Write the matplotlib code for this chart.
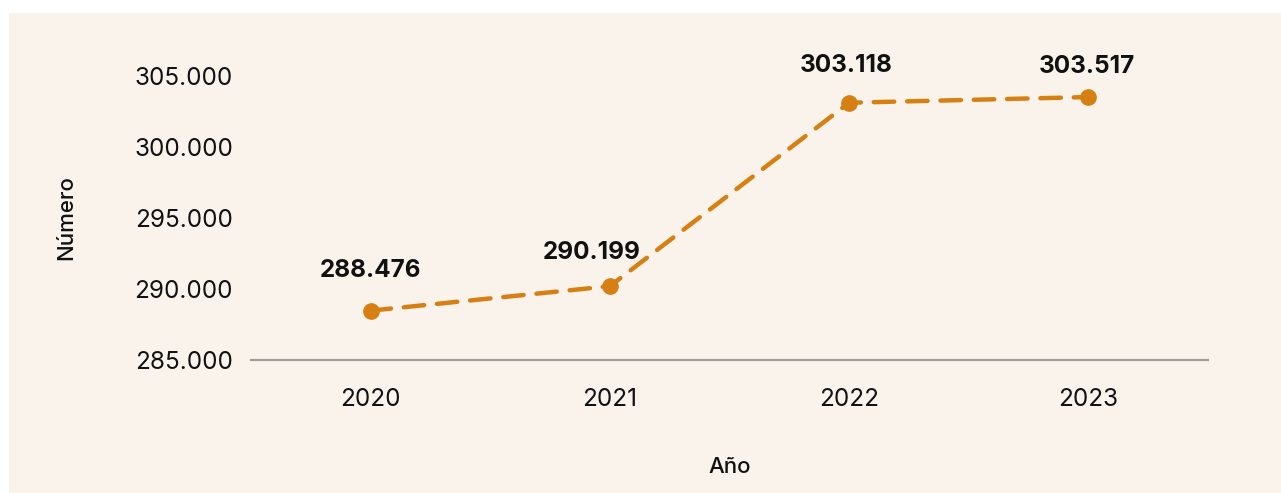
import matplotlib.pyplot as plt
from matplotlib.patches import Rectangle

years = ['2020', '2021', '2022', '2023']
values = [288476, 290199, 303118, 303517]
value_labels = ['288.476', '290.199', '303.118', '303.517']
y_ticks = [285000, 290000, 295000, 300000, 305000]
y_tick_labels = ['285.000', '290.000', '295.000', '300.000', '305.000']

plt.rcParams['font.family'] = ['Inter', 'DejaVu Sans']

bg = '#FAF3EC'
orange = '#D67F12'
# label offsets in points (layout only)
label_offsets = [(0, 29), (-13, 24), (-2, 27), (-1, 22)]

fig = plt.figure(figsize=(12.81, 4.93), dpi=100)
fig.patch.set_facecolor('white')
fig.patches.append(Rectangle((9 / 1281, 0), 1, 1 - 13 / 493, transform=fig.transFigure,
                             facecolor=bg, edgecolor='none', zorder=-10))

ax = fig.add_axes([251 / 1281, 133 / 493, 957 / 1281, 284 / 493])
ax.set_facecolor('none')

x = list(range(len(years)))
ax.plot(x, values, color=orange, lw=3.2, ls=(0, (4.6, 2.9)), dash_capstyle='round',
        marker='o', markersize=11, clip_on=False, zorder=3)

for xi, v, lab, off in zip(x, values, value_labels, label_offsets):
    ax.annotate(lab, (xi, v), xytext=off, textcoords='offset points',
                ha='center', va='center', fontsize=17.5, fontweight='bold', color='#111111')

ax.set_xlim(-0.5, 3.5)
ax.set_ylim(285000, 305000)
ax.set_xticks(x)
ax.set_xticklabels(years)
ax.set_yticks(y_ticks)
ax.set_yticklabels(y_tick_labels)
ax.tick_params(axis='both', length=0, labelsize=17.5, labelcolor='#111111')
ax.tick_params(axis='x', pad=20)
ax.tick_params(axis='y', pad=13)

for side in ['top', 'right', 'left']:
    ax.spines[side].set_visible(False)
ax.spines['bottom'].set_color('#A09B96')
ax.spines['bottom'].set_linewidth(1.6)

ax.set_xlabel('Año', fontsize=16, fontweight='medium', color='#111111', va='center')
ax.set_ylabel('Número', fontsize=16, fontweight='medium', color='#111111', va='center')
ax.xaxis.set_label_coords(0.5, (360 - 467) / 284)
ax.yaxis.set_label_coords((66 - 251) / 957, 0.5)

fig.savefig('out.png', dpi=100, facecolor=fig.get_facecolor())
